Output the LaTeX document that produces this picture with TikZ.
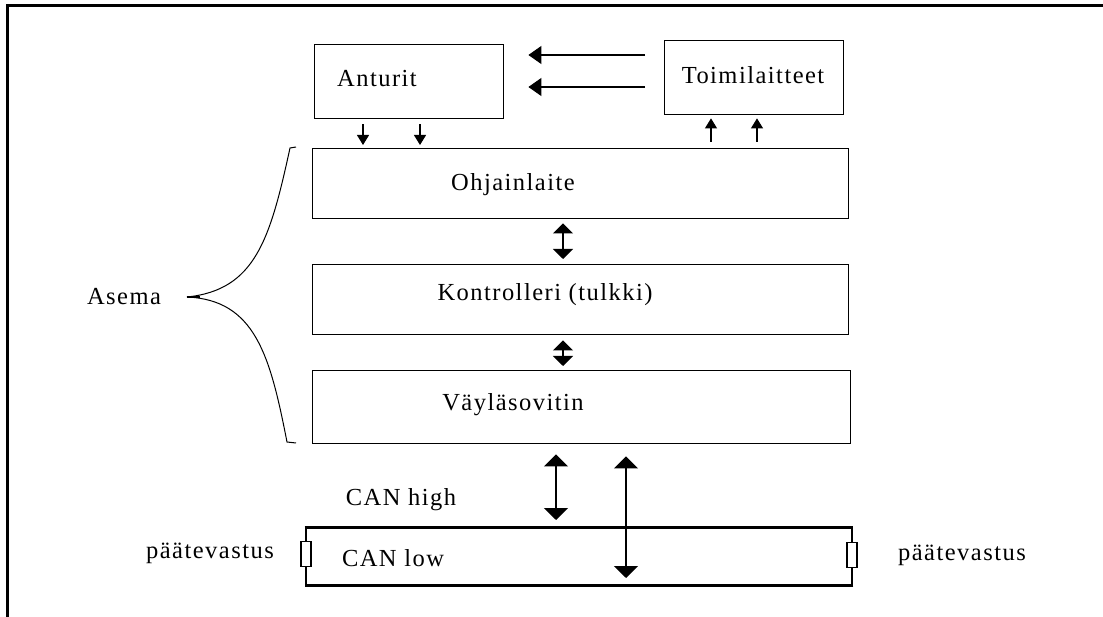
\documentclass[tikz,border=0pt]{standalone}
\usepackage{fontspec}
\setmainfont{Liberation Serif}[LetterSpace=6]
\usetikzlibrary{arrows.meta,calc}

\begin{document}
\begin{tikzpicture}[x=1pt,y=-1pt,
  box/.style={draw, line width=1.4pt, inner sep=0pt, anchor=north west},
  lbl/.style={font=\fontsize{24.5}{28}\selectfont, inner sep=0pt},
  res/.style={draw, line width=1.1pt, minimum width=10pt, minimum height=25pt, inner sep=0pt},
  arrsmall/.style={line width=1.1pt, -{Triangle[width=12pt,length=10pt]}},
  arrside/.style={line width=1.1pt, -{Triangle[width=18pt,length=13pt]}},
  arrboth/.style={line width=1.3pt, {Triangle[width=20pt,length=10pt]}-{Triangle[width=20pt,length=10pt]}},
  arrbig/.style={line width=1.3pt, {Triangle[width=24pt,length=12pt]}-{Triangle[width=24pt,length=12pt]}},
  bus/.style={line width=3pt},
  busside/.style={line width=1.8pt},
  brace/.style={line width=1pt, line join=round}]

\useasboundingbox (0,0) rectangle (1103,617);

% outer frame (top and left edges)
\draw[line width=3pt] (7,617) -- (7,6) -- (1103,6);

% blocks
\node[box, minimum width=189pt, minimum height=74pt] (anturit) at (314,44) {};
\node[box, minimum width=179pt, minimum height=74pt] (toimi) at (664,40) {};
\node[box, minimum width=536pt, minimum height=70pt] (ohj) at (312,148) {};
\node[box, minimum width=536pt, minimum height=70pt] (kontr) at (312,264) {};
\node[box, minimum width=538pt, minimum height=73pt] (vayla) at (312,370) {};

% block texts
\node[lbl] (tAnturit) at (377,79) {Anturit};
\node[lbl] (tToimi) at (753,75) {Toimilaitteet};
\node[lbl] (tOhj) at (513,185) {Ohjainlaite};
\node[lbl] (tKontr) at (545,295) {Kontrolleri (tulkki)};
\node[lbl] (tVayla) at (513,405) {Väyläsovitin};
\node[lbl] (tAsema) at (124,297) {Asema};
\node[lbl] (tHigh) at (401,500) {CAN high};
\node[lbl] (tLow) at (393,558) {CAN low};

% terminating resistors
\node[res] (resL) at (306,554) {};
\node[res] (resR) at (852,555) {};
\node[lbl] (tResL) at (210,553) {päätevastus};
\node[lbl] (tResR) at (962,555) {päätevastus};

% helper coordinates for connector positions
\coordinate (ya) at (0,55);
\coordinate (yb) at (0,87);
\coordinate (xa) at (363,0);
\coordinate (xb) at (420,0);
\coordinate (xc) at (711,0);
\coordinate (xd) at (757,0);
\coordinate (xe) at (563,0);
\coordinate (xf) at (556,0);
\coordinate (xg) at (626,0);
\coordinate (bt) at (0,527);
\coordinate (bb) at (0,585);
\coordinate (hi) at (0,520);
\coordinate (lo) at (0,578);

% actuators -> sensors
\draw[arrside, shorten <=19pt, shorten >=24pt] (toimi.west |- ya) -- (anturit.east |- ya);
\draw[arrside, shorten <=19pt, shorten >=24pt] (toimi.west |- yb) -- (anturit.east |- yb);

% sensors -> control unit
\draw[arrsmall, shorten <=5pt, shorten >=3pt] (anturit.south -| xa) -- (ohj.north -| xa);
\draw[arrsmall, shorten <=5pt, shorten >=3pt] (anturit.south -| xb) -- (ohj.north -| xb);

% control unit -> actuators
\draw[arrsmall, shorten <=6pt, shorten >=3pt] (ohj.north -| xc) -- (toimi.south -| xc);
\draw[arrsmall, shorten <=6pt, shorten >=3pt] (ohj.north -| xd) -- (toimi.south -| xd);

% station internal links
\draw[arrboth, shorten <=4pt, shorten >=5pt] (ohj.south -| xe) -- (kontr.north -| xe);
\draw[arrboth, shorten <=5pt, shorten >=4pt] (kontr.south -| xe) -- (vayla.north -| xe);

% bus lines
\draw[busside] (resL.north) -- (resL.north |- bt);
\draw[bus] ($(resL.north |- bt)+(-1.4,0)$) -- ($(resR.north |- bt)+(1.4,0)$);
\draw[busside] (resR.north |- bt) -- (resR.north);
\draw[busside] (resR.south) -- (resR.south |- bb);
\draw[bus] ($(resR.south |- bb)+(1.4,0)$) -- ($(resL.south |- bb)+(-1.4,0)$);
\draw[busside] (resL.south |- bb) -- (resL.south);

% transceiver <-> bus
\draw[arrbig, shorten <=10pt] (vayla.south -| xf) -- (hi -| xf);
\draw[arrbig, shorten <=12pt] (vayla.south -| xg) -- (lo -| xg);

% brace grouping the station
\coordinate (bTop) at (296,147);
\coordinate (bTip) at (187,297);
\coordinate (bBot) at (296,443);
\coordinate (bStub) at (200,297);
\draw[brace] (bTop) -- (290,148) .. controls (270,240) and (255,290) .. (bTip);
\draw[brace] (bTip) .. controls (255,300) and (270,355) .. (287,442) -- (bBot);
\draw[line width=1.6pt] (bTip) -- (bStub);

\end{tikzpicture}
\end{document}
